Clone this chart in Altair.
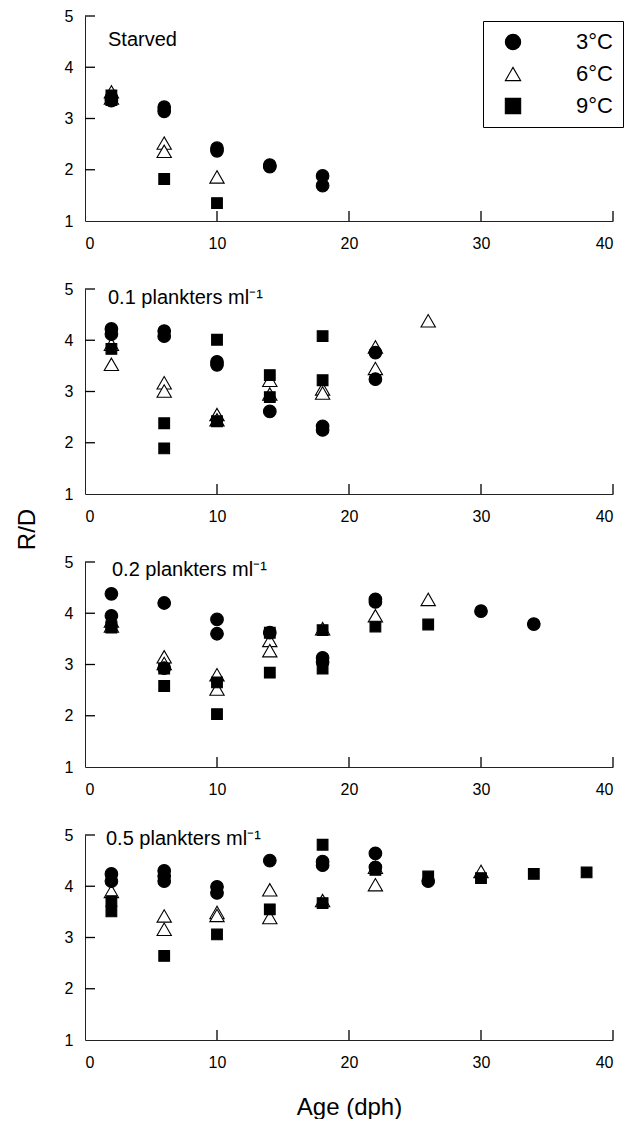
import altair as alt
import pandas as pd

# ---------------- data ----------------
temps = ["3°C", "6°C", "9°C"]
temp_shapes = ["circle", "triangle-up", "square"]
temp_fills = ["black", "white", "black"]
temp_strokes = ["black", "black", "black"]
temp_sizes = {"3°C": 160, "6°C": 205, "9°C": 115}

panel_titles = ["Starved", "0.1 plankters ml⁻¹", "0.2 plankters ml⁻¹", "0.5 plankters ml⁻¹"]
x_tick_values = [0, 10, 20, 30, 40]
y_tick_values = [1, 2, 3, 4, 5]

# Starved
st_3_age = [2, 2, 6, 6, 10, 10, 14, 14, 18, 18]
st_3_rd = [3.40, 3.35, 3.22, 3.14, 2.42, 2.37, 2.09, 2.06, 1.88, 1.69]
st_6_age = [2, 2, 6, 6, 10]
st_6_rd = [3.52, 3.40, 2.52, 2.36, 1.86]
st_9_age = [2, 2, 6, 10]
st_9_rd = [3.45, 3.36, 1.82, 1.35]

# 0.1 plankters/ml
p1_3_age = [2, 2, 6, 6, 10, 10, 14, 18, 18, 22, 22]
p1_3_rd = [4.22, 4.12, 4.18, 4.08, 3.58, 3.52, 2.61, 2.32, 2.25, 3.76, 3.24]
p1_6_age = [2, 2, 6, 6, 10, 10, 14, 14, 18, 18, 22, 22, 26]
p1_6_rd = [3.92, 3.53, 3.17, 3.01, 2.55, 2.45, 3.22, 2.95, 3.05, 2.97, 3.87, 3.45, 4.38]
p1_9_age = [2, 6, 6, 10, 10, 14, 14, 18, 18]
p1_9_rd = [3.83, 2.38, 1.89, 4.01, 2.42, 3.32, 2.89, 4.08, 3.22]

# 0.2 plankters/ml
p2_3_age = [2, 2, 6, 6, 10, 10, 14, 18, 18, 22, 22, 30, 34]
p2_3_rd = [4.38, 3.95, 4.20, 2.93, 3.88, 3.60, 3.62, 3.13, 3.05, 4.27, 4.22, 4.04, 3.79]
p2_6_age = [2, 2, 6, 6, 10, 10, 14, 14, 18, 22, 26]
p2_6_rd = [3.85, 3.75, 3.15, 3.02, 2.80, 2.52, 3.47, 3.27, 3.70, 3.95, 4.27]
p2_9_age = [2, 2, 6, 6, 10, 10, 14, 14, 18, 18, 22, 26]
p2_9_rd = [3.75, 3.72, 2.92, 2.58, 2.65, 2.03, 3.62, 2.84, 3.67, 2.92, 3.74, 3.78]

# 0.5 plankters/ml
p5_3_age = [2, 2, 6, 6, 6, 10, 10, 14, 18, 18, 22, 22, 26]
p5_3_rd = [4.24, 4.10, 4.30, 4.20, 4.10, 3.99, 3.87, 4.50, 4.48, 4.41, 4.64, 4.37, 4.10]
p5_6_age = [2, 6, 6, 10, 10, 14, 14, 18, 22, 22, 30]
p5_6_rd = [3.90, 3.42, 3.16, 3.49, 3.43, 3.93, 3.39, 3.72, 4.37, 4.03, 4.29]
p5_9_age = [2, 2, 6, 10, 14, 18, 18, 22, 26, 30, 34, 38]
p5_9_rd = [3.71, 3.51, 2.64, 3.06, 3.55, 4.81, 3.67, 4.32, 4.19, 4.16, 4.24, 4.27]

panels = [
    ((st_3_age, st_3_rd), (st_6_age, st_6_rd), (st_9_age, st_9_rd)),
    ((p1_3_age, p1_3_rd), (p1_6_age, p1_6_rd), (p1_9_age, p1_9_rd)),
    ((p2_3_age, p2_3_rd), (p2_6_age, p2_6_rd), (p2_9_age, p2_9_rd)),
    ((p5_3_age, p5_3_rd), (p5_6_age, p5_6_rd), (p5_9_age, p5_9_rd)),
]

# ---------------- layout / style ----------------
W, H = 528, 205
FONT = "Liberation Sans"
TICK_PX = 10
layer_order = ["6°C", "3°C", "9°C"]           # triangles underneath
title_pos = [(23, 30), (23, 15), (27, 14), (21, 10)]

x_scale = alt.Scale(domain=[0, 40], nice=False, zero=False)
y_scale = alt.Scale(domain=[1, 5], nice=False, zero=False)


def make_panel(i):
    rows = []
    for t, (ages, rds) in zip(temps, panels[i]):
        for a, r in zip(ages, rds):
            rows.append({"age": a, "rd": r, "temp": t})
    df = pd.DataFrame(rows)

    xaxis = alt.Axis(
        values=x_tick_values, ticks=False, grid=False, labelPadding=14,
        labelFontSize=16, labelFont=FONT, labelColor="black",
        domainColor="#222", domainWidth=1,
        title="Age (dph)" if i == 3 else None,
        titleFont=FONT, titleFontSize=24, titleFontWeight="normal", titleColor="black",
        titleX=W / 2, titleY=74, titleBaseline="alphabetic", titleAlign="center",
    )
    yaxis = alt.Axis(
        values=y_tick_values, ticks=False, grid=False, labelPadding=12,
        labelFontSize=16, labelFont=FONT, labelColor="black",
        domainColor="#222", domainWidth=1,
        title="R/D" if i == 2 else None,
        titleFont=FONT, titleFontSize=24, titleFontWeight="normal", titleColor="black",
        titleAngle=270, titleX=-58, titleY=-33, titleBaseline="middle", titleAlign="center",
    )

    if i == 0:
        leg = alt.Legend(
            title=None, orient="none", legendX=398, legendY=5,
            strokeColor="black", fillColor="white", padding=10,
            labelFontSize=22, labelFont=FONT, labelColor="black",
            rowPadding=10, symbolOffset=9, labelOffset=52,
            symbolSize=235, symbolStrokeWidth=1.1,
        )
    else:
        leg = None

    enc = dict(
        x=alt.X("age:Q", scale=x_scale, axis=xaxis),
        y=alt.Y("rd:Q", scale=y_scale, axis=yaxis),
        shape=alt.Shape("temp:N", scale=alt.Scale(domain=temps, range=temp_shapes), legend=leg),
        fill=alt.Fill("temp:N", scale=alt.Scale(domain=temps, range=temp_fills), legend=leg),
        stroke=alt.Stroke("temp:N", scale=alt.Scale(domain=temps, range=temp_strokes), legend=leg),
    )
    base = alt.Chart(df)
    point_layers = [
        base.transform_filter(alt.datum.temp == t).mark_point(
            filled=True, strokeWidth=1.1, opacity=1, size=temp_sizes[t]
        ).encode(**enc)
        for t in layer_order
    ]

    # inward tick marks (the original's axes have ticks pointing into the plot)
    xt = alt.Chart(pd.DataFrame({"age": x_tick_values[1:]})).mark_tick(
        orient="vertical", size=TICK_PX, thickness=1.3, color="black", opacity=1
    ).encode(
        x=alt.X("age:Q", scale=x_scale, axis=xaxis),
        y=alt.value(H - TICK_PX / 2),
    )
    yt = alt.Chart(pd.DataFrame({"rd": y_tick_values[1:]})).mark_tick(
        orient="horizontal", size=TICK_PX, thickness=1.3, color="black", opacity=1
    ).encode(
        y=alt.Y("rd:Q", scale=y_scale, axis=yaxis),
        x=alt.value(TICK_PX / 2),
    )

    tx, ty = title_pos[i]
    lab = alt.Chart(pd.DataFrame({"label": [panel_titles[i]]})).mark_text(
        align="left", baseline="alphabetic", fontSize=20, font=FONT, color="black"
    ).encode(
        text="label:N", x=alt.value(tx), y=alt.value(ty),
    )

    return alt.layer(xt, yt, *point_layers, lab).properties(width=W, height=H)


chart = alt.vconcat(
    *[make_panel(i) for i in range(4)], spacing=68, bounds="flush"
).resolve_legend(
    shape="independent", fill="independent", stroke="independent"
).properties(
    padding={"left": 7, "top": 0, "right": 5, "bottom": 0}
).configure_view(stroke=None)

chart.save("out.html", embed_options={"renderer": "svg", "actions": False})
